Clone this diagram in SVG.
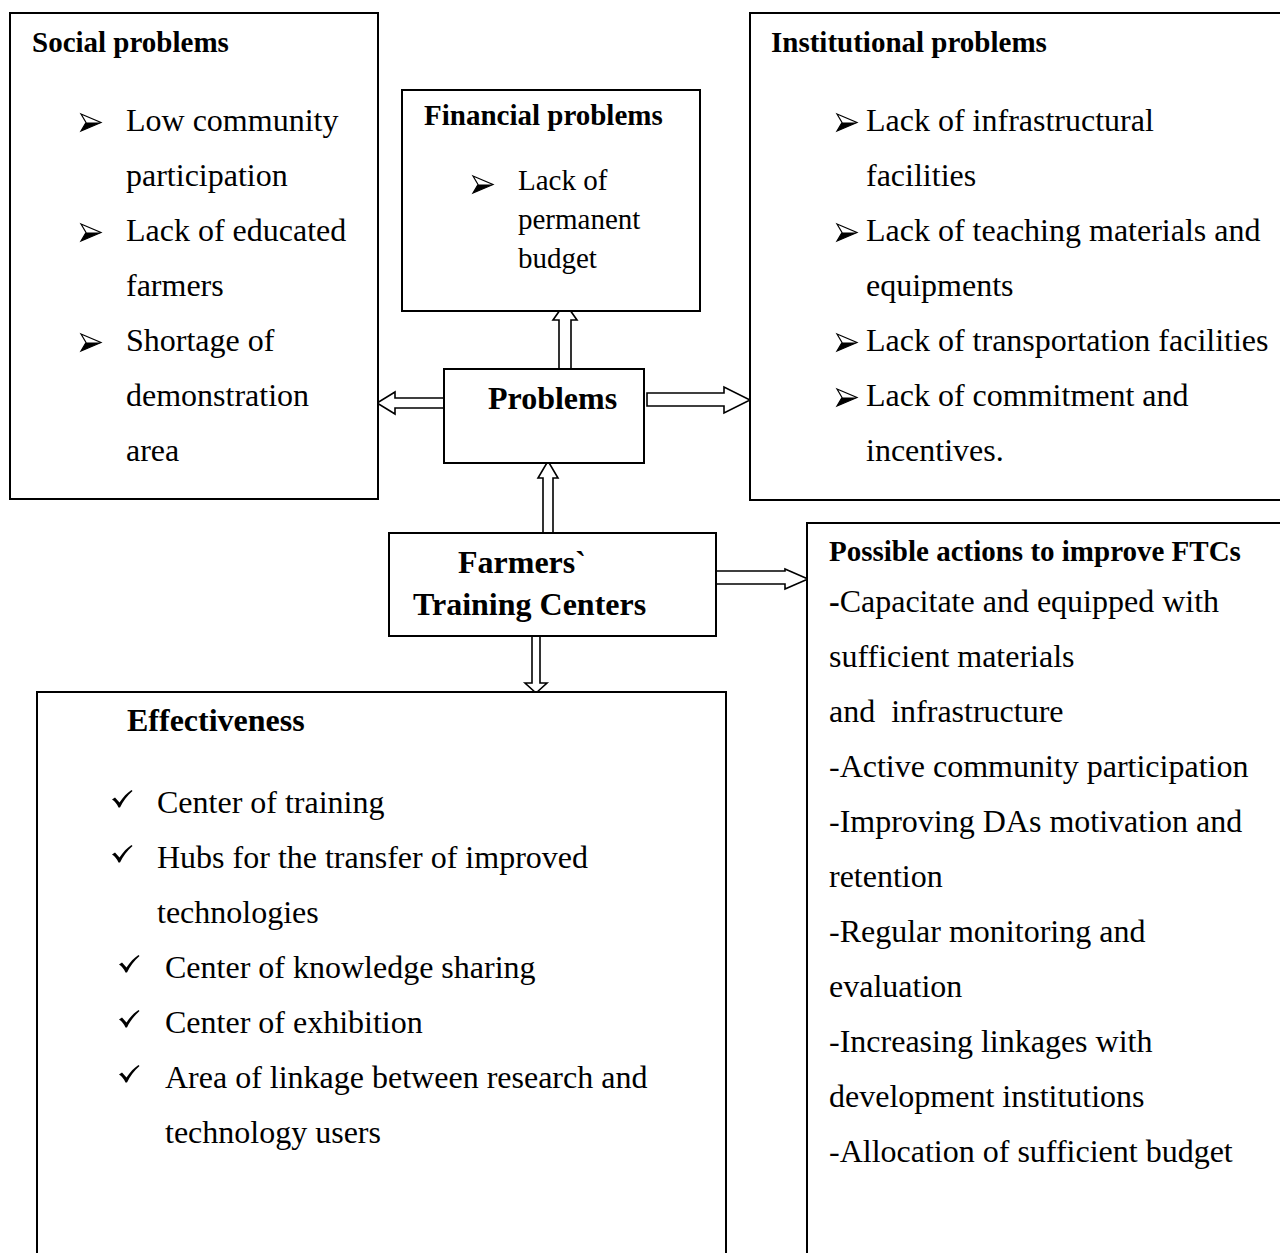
<svg xmlns="http://www.w3.org/2000/svg" xmlns:xlink="http://www.w3.org/1999/xlink" width="1280" height="1253" viewBox="0 0 1280 1253">
<style>
.box{fill:#fff;stroke:#000;stroke-width:2}
.arr{fill:#fff;stroke:#000;stroke-width:1.6;stroke-linejoin:miter}
text{font-family:"Liberation Serif","Times New Roman",serif;fill:#000}
.t{font-size:32px}
.s{font-size:29px}
.h{font-size:29px;font-weight:bold}
.H{font-size:32px;font-weight:bold}
</style>
<defs>
<g id="bul">
<path d="M0,0 L20,8.5 L0,17 L5,8.5 Z" fill="#fff" stroke="#000" stroke-width="1.2" stroke-linejoin="miter"/>
<path d="M5,8.5 L20,8.5 L0,17 Z" fill="#000"/>
</g>
<g id="chk">
<path d="M0,9.5 L3,7.5 L7.5,12.5 C11,7 15,3 19.5,0 L20.5,1 C15,6 11,11 8,17.5 L6.5,17.5 C5,14 3,11.5 0,9.5 Z" fill="#000"/>
</g>
</defs>

<g id="connectors">
<polygon class="arr" points="559,369 559,320 553,320 565,303 577,320 571,320 571,369"/>
<polygon class="arr" points="444,398 395,398 395,392 377,403 395,414 395,408 444,408"/>
<polygon class="arr" points="647,393 724,393 724,387 750,400 724,413 724,406 647,406 Z"/>
<polygon class="arr" points="543,533 543,478 538,478 548,461 558,478 553,478 553,533"/>
<polygon class="arr" points="716,571 785,571 785,569 808,579 785,589 785,584 716,584"/>
<polygon class="arr" points="532,636 532,683 525,683 536,693 547,683 540,683 540,636"/>
</g>

<g id="social">
<rect class="box" x="10" y="13" width="368" height="486"/>
<text class="h" x="32" y="52">Social problems</text>
<use xlink:href="#bul" x="81" y="114"/>
<use xlink:href="#bul" x="81" y="224"/>
<use xlink:href="#bul" x="81" y="334"/>
<text class="t" x="126" y="131">Low community</text>
<text class="t" x="126" y="186">participation</text>
<text class="t" x="126" y="241">Lack of educated</text>
<text class="t" x="126" y="296">farmers</text>
<text class="t" x="126" y="351">Shortage of</text>
<text class="t" x="126" y="406">demonstration</text>
<text class="t" x="126" y="461">area</text>
</g>

<g id="financial">
<rect class="box" x="402" y="90" width="298" height="221"/>
<text class="h" x="424" y="125">Financial problems</text>
<use xlink:href="#bul" x="473" y="176"/>
<text class="s" x="518" y="190">Lack of</text>
<text class="s" x="518" y="229">permanent</text>
<text class="s" x="518" y="268">budget</text>
</g>

<g id="institutional">
<rect class="box" x="750" y="13" width="540" height="487"/>
<text class="h" x="771" y="52">Institutional problems</text>
<use xlink:href="#bul" x="837" y="114"/>
<use xlink:href="#bul" x="837" y="224"/>
<use xlink:href="#bul" x="837" y="334"/>
<use xlink:href="#bul" x="837" y="389"/>
<text class="t" x="866" y="131">Lack of infrastructural</text>
<text class="t" x="866" y="186">facilities</text>
<text class="t" x="866" y="241">Lack of teaching materials and</text>
<text class="t" x="866" y="296">equipments</text>
<text class="t" x="866" y="351">Lack of transportation facilities</text>
<text class="t" x="866" y="406">Lack of commitment and</text>
<text class="t" x="866" y="461">incentives.</text>
</g>

<g id="problems">
<rect class="box" x="444" y="369" width="200" height="94"/>
<text class="H" x="488" y="409">Problems</text>
</g>

<g id="ftc">
<rect class="box" x="389" y="533" width="327" height="103"/>
<text class="H" x="458" y="573">Farmers`</text>
<text class="H" x="413" y="615">Training Centers</text>
</g>

<g id="effectiveness">
<rect class="box" x="37" y="692" width="689" height="600"/>
<text class="H" x="127" y="731">Effectiveness</text>
<use xlink:href="#chk" x="112" y="790"/>
<use xlink:href="#chk" x="112" y="845"/>
<use xlink:href="#chk" x="119" y="955"/>
<use xlink:href="#chk" x="119" y="1010"/>
<use xlink:href="#chk" x="119" y="1065"/>
<text class="t" x="157" y="813">Center of training</text>
<text class="t" x="157" y="868">Hubs for the transfer of improved</text>
<text class="t" x="157" y="923">technologies</text>
<text class="t" x="165" y="978">Center of knowledge sharing</text>
<text class="t" x="165" y="1033">Center of exhibition</text>
<text class="t" x="165" y="1088">Area of linkage between research and</text>
<text class="t" x="165" y="1143">technology users</text>
</g>

<g id="actions">
<rect class="box" x="807" y="523" width="483" height="770"/>
<text class="h" x="829" y="561">Possible actions to improve FTCs</text>
<text class="t" x="829" y="612"><tspan font-weight="bold">-</tspan>Capacitate and equipped with</text>
<text class="t" x="829" y="667">sufficient materials</text>
<text class="t" x="829" y="722" xml:space="preserve">and  infrastructure</text>
<text class="t" x="829" y="777">-Active community participation</text>
<text class="t" x="829" y="832">-Improving DAs motivation and</text>
<text class="t" x="829" y="887">retention</text>
<text class="t" x="829" y="942">-Regular monitoring and</text>
<text class="t" x="829" y="997">evaluation</text>
<text class="t" x="829" y="1052">-Increasing linkages with</text>
<text class="t" x="829" y="1107">development institutions</text>
<text class="t" x="829" y="1162">-Allocation of sufficient budget</text>
</g>
</svg>
